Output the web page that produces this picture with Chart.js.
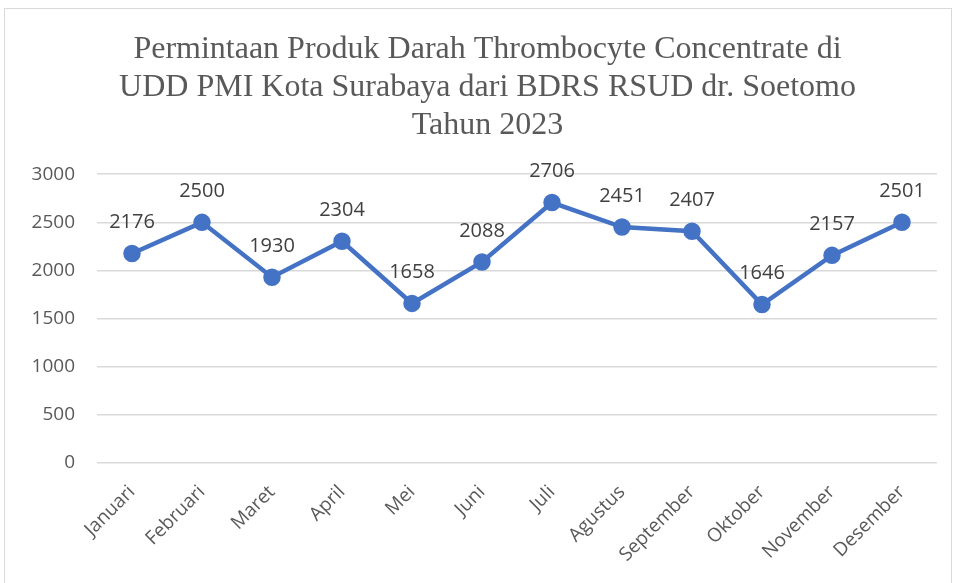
<!DOCTYPE html>
<html>
<head>
<meta charset="utf-8">
<script src="https://cdn.jsdelivr.net/npm/chart.js@4"></script>
<style>
  body { margin: 0; background: #fff; }
  #box {
    position: absolute; left: 4px; top: 8px;
    width: 948px; height: 580px;
    border: 1px solid #d9d9d9; box-sizing: border-box;
  }
</style>
</head>
<body>
<div id="box"><canvas id="permintaanChart"></canvas></div>
<script>
const bulan = ['Januari', 'Februari', 'Maret', 'April', 'Mei', 'Juni', 'Juli',
               'Agustus', 'September', 'Oktober', 'November', 'Desember'];
const permintaan = [2176, 2500, 1930, 2304, 1658, 2088, 2706, 2451, 2407, 1646, 2157, 2501];
const judul = ['Permintaan Produk Darah Thrombocyte Concentrate di',
               'UDD PMI Kota Surabaya dari BDRS RSUD dr. Soetomo',
               'Tahun 2023'];

// simple value labels above each point
const labelPlugin = {
  id: 'valueLabels',
  afterLayout(chart) {
    // centre the title a bit further right, like the original
    if (chart.titleBlock) chart.titleBlock.left += 33;
  },
  afterDatasetsDraw(chart) {
    const ctx = chart.ctx;
    const meta = chart.getDatasetMeta(0);
    ctx.save();
    ctx.font = '20px "Open Sans"';
    ctx.fillStyle = '#404040';
    ctx.textAlign = 'center';
    ctx.textBaseline = 'middle';
    meta.data.forEach((pt, i) => {
      ctx.fillText(chart.data.datasets[0].data[i], pt.x, pt.y - 31);
    });
    ctx.restore();
  }
};

const config = {
  type: 'line',
  data: {
    labels: bulan,
    datasets: [{
      label: 'Permintaan',
      data: permintaan,
      borderColor: '#4472C4',
      backgroundColor: '#4472C4',
      borderWidth: 4.5,
      pointRadius: 6.5,
      pointHoverRadius: 6.5,
      tension: 0
    }]
  },
  options: {
    responsive: true,
    maintainAspectRatio: false,
    animation: false,
    layout: { padding: { left: 0, right: 14, top: 0, bottom: 0 } },
    plugins: {
      legend: { display: false },
      tooltip: { enabled: false },
      title: {
        display: true,
        text: judul,
        color: '#595959',
        font: { family: '"Liberation Serif"', size: 32, weight: 'normal', lineHeight: 1.2 },
        padding: { top: 21, bottom: 29 }
      }
    },
    scales: {
      x: {
        offset: true,
        grid: { display: false },
        border: { display: false },
        afterFit(scale) { scale.height = 124; },
        ticks: {
          color: '#595959',
          font: { family: '"Open Sans"', size: 19 },
          minRotation: 45,
          maxRotation: 45,
          padding: 10
        }
      },
      y: {
        min: 0,
        max: 3000,
        afterFit(scale) { scale.width = 92; },
        grid: { color: '#d9d9d9', lineWidth: 1.5, drawTicks: false },
        border: { display: false },
        ticks: {
          stepSize: 500,
          color: '#595959',
          font: { family: '"Open Sans"', size: 19 },
          padding: 22,
          callback: (v) => String(v)
        }
      }
    }
  },
  plugins: [labelPlugin]
};

new Chart(document.getElementById('permintaanChart'), config);
</script>
</body>
</html>
